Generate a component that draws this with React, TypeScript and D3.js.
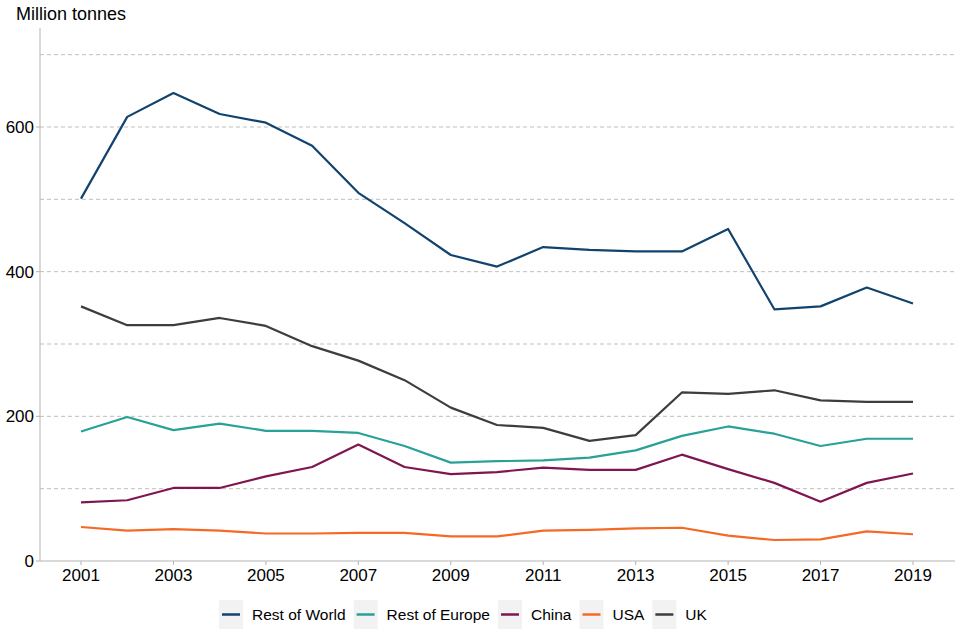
import React from "react";
import * as d3 from "d3";

const years = d3.range(2001, 2020);
const restOfWorld = [501, 614, 647, 618, 606, 574, 509, 467, 423, 407, 434, 430, 428, 428, 459, 348, 352, 378, 356];
const restOfEurope = [179, 199, 181, 190, 180, 180, 177, 159, 136, 138, 139, 143, 153, 173, 186, 176, 159, 169, 169];
const china = [81, 84, 101, 101, 117, 130, 161, 130, 120, 123, 129, 126, 126, 147, 127, 108, 82, 108, 121];
const usa = [47, 42, 44, 42, 38, 38, 39, 39, 34, 34, 42, 43, 45, 46, 35, 29, 30, 41, 37];
const uk = [352, 326, 326, 336, 325, 297, 277, 250, 212, 188, 184, 166, 174, 233, 231, 236, 222, 220, 220];

const seriesNames = ["Rest of World", "Rest of Europe", "China", "USA", "UK"];
const seriesValues = [restOfWorld, restOfEurope, china, usa, uk];
const seriesColors = ["#12436D", "#28A197", "#801650", "#F46A25", "#3D3D3D"];
const drawOrder = [4, 3, 2, 1, 0];

const yGrid = [100, 200, 300, 400, 500, 600, 700];
const yLabels = [0, 200, 400, 600];
const xLabels = [2001, 2003, 2005, 2007, 2009, 2011, 2013, 2015, 2017, 2019];

const FONT = "'Liberation Sans', Arial, sans-serif";

function textWidth(t: string, size: number) {
  if (typeof document === "undefined") return t.length * size * 0.5;
  const c = document.createElement("canvas").getContext("2d");
  if (!c) return t.length * size * 0.5;
  c.font = `${size}px 'Liberation Sans', Arial, sans-serif`;
  return c.measureText(t).width;
}

export default function App() {
  const W = 960, H = 640;
  const left = 40, right = 955, top = 28, bottom = 561;
  const x = d3.scaleLinear().domain([2001, 2019]).range([81, 913]);
  const y = d3.scaleLinear().domain([0, 600]).range([bottom, 127]);
  const line = d3.line<number>().x((_, i) => x(years[i])).y((v) => y(v));

  // legend layout
  const fs = 15.5;
  const boxW = 24, boxH = 29, gapText = 9, gapItem = 8;
  let cx = 219;
  const legendItems = seriesNames.map((n, i) => {
    const item = { n, i, x: cx };
    cx += boxW + gapText + textWidth(n, fs) + gapItem;
    return item;
  });
  const legY = 600;

  return (
    <svg width={W} height={H} style={{ position: "absolute", left: 0, top: 0, fontFamily: FONT }}>
      <rect width={W} height={H} fill="#ffffff" />
      <text x={16} y={20} fontSize={18} fill="#000">Million tonnes</text>
      {yGrid.map((v) => (
        <line key={v} x1={left} x2={right} y1={y(v)} y2={y(v)} stroke="#bfbfbf" strokeWidth={1} strokeDasharray="4,3" />
      ))}
      <line x1={left} x2={left} y1={top} y2={bottom} stroke="#b3b3b3" strokeWidth={1} />
      <line x1={left} x2={right} y1={bottom} y2={bottom} stroke="#b3b3b3" strokeWidth={1} />
      {yLabels.map((v) => (
        <g key={v}>
          <line x1={left - 4} x2={left} y1={y(v)} y2={y(v)} stroke="#b3b3b3" />
          <text x={34} y={y(v)} dy="0.36em" textAnchor="end" fontSize={17} fill="#000">{v}</text>
        </g>
      ))}
      {xLabels.map((v) => (
        <g key={v}>
          <line x1={x(v)} x2={x(v)} y1={bottom} y2={bottom + 4} stroke="#b3b3b3" />
          <text x={x(v)} y={581} textAnchor="middle" fontSize={17} fill="#000">{v}</text>
        </g>
      ))}
      {drawOrder.map((i) => (
        <path key={i} d={line(seriesValues[i]) || ""} fill="none" stroke={seriesColors[i]} strokeWidth={2.2} strokeLinejoin="round" />
      ))}
      {legendItems.map(({ n, i, x: lx }) => (
        <g key={n}>
          <rect x={lx} y={legY} width={boxW} height={boxH} fill="#f2f2f2" />
          <line x1={lx + 3} x2={lx + boxW - 3} y1={legY + boxH / 2} y2={legY + boxH / 2} stroke={seriesColors[i]} strokeWidth={2.5} />
          <text x={lx + boxW + gapText} y={legY + boxH / 2} dy="0.36em" fontSize={fs} fill="#000">{n}</text>
        </g>
      ))}
    </svg>
  );
}
